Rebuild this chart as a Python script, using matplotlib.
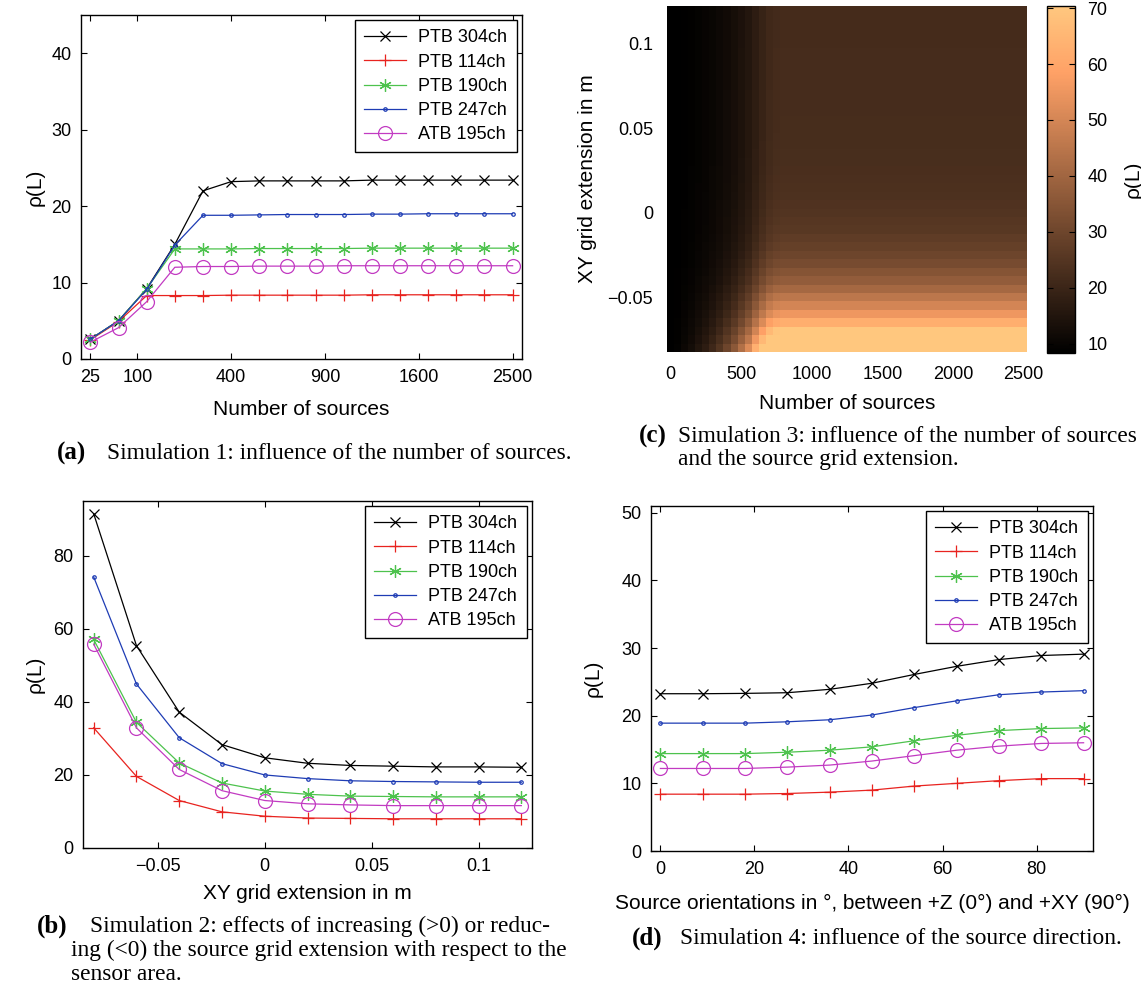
import numpy as np
import matplotlib.pyplot as plt

plt.rcParams['font.family'] = ['Liberation Sans', 'DejaVu Sans']
plt.rcParams['font.size'] = 13
plt.rcParams['xtick.direction'] = 'in'
plt.rcParams['ytick.direction'] = 'in'
plt.rcParams['xtick.top'] = True
plt.rcParams['ytick.right'] = True
plt.rcParams['xtick.major.size'] = 4
plt.rcParams['ytick.major.size'] = 4
plt.rcParams['xtick.major.pad'] = 7
plt.rcParams['ytick.major.pad'] = 7
plt.rcParams['axes.linewidth'] = 1.0

labels = ['PTB 304ch', 'PTB 114ch', 'PTB 190ch', 'PTB 247ch', 'ATB 195ch']

# Simulation 1: number of sources
sources = [25, 64, 121, 196, 289, 400, 529, 676, 841, 1024, 1225, 1444, 1681, 1936, 2209, 2500]
sim1_ptb304 = [2.6, 5.0, 9.2, 15.0, 22.0, 23.2, 23.3, 23.3, 23.3, 23.3, 23.4, 23.4, 23.4, 23.4, 23.4, 23.4]
sim1_ptb114 = [2.5, 4.9, 8.3, 8.3, 8.3, 8.35, 8.35, 8.35, 8.35, 8.35, 8.4, 8.4, 8.4, 8.4, 8.4, 8.4]
sim1_ptb190 = [2.6, 5.0, 9.2, 14.4, 14.4, 14.4, 14.45, 14.45, 14.45, 14.45, 14.5, 14.5, 14.5, 14.5, 14.5, 14.5]
sim1_ptb247 = [2.6, 5.0, 9.1, 14.9, 18.8, 18.8, 18.85, 18.9, 18.9, 18.9, 18.95, 18.95, 19.0, 19.0, 19.0, 19.0]
sim1_atb195 = [2.2, 4.1, 7.5, 12.0, 12.1, 12.1, 12.15, 12.15, 12.15, 12.2, 12.2, 12.2, 12.2, 12.2, 12.2, 12.2]

# Simulation 2: grid extension
extension = [-0.08, -0.06, -0.04, -0.02, 0.0, 0.02, 0.04, 0.06, 0.08, 0.10, 0.12]
sim2_ptb304 = [91.5, 55.4, 37.2, 28.3, 24.7, 23.2, 22.6, 22.4, 22.2, 22.2, 22.1]
sim2_ptb114 = [32.9, 19.6, 13.0, 9.9, 8.7, 8.2, 8.1, 8.0, 8.0, 8.0, 8.0]
sim2_ptb190 = [57.1, 34.4, 23.3, 17.8, 15.6, 14.7, 14.2, 14.1, 14.0, 14.0, 14.0]
sim2_ptb247 = [74.2, 44.9, 30.2, 23.1, 20.0, 19.0, 18.4, 18.2, 18.1, 18.0, 18.0]
sim2_atb195 = [55.8, 32.9, 21.5, 15.7, 13.0, 12.1, 11.8, 11.6, 11.6, 11.6, 11.6]

# Simulation 3: sources x grid extension (PTB 304ch)
heat_sources = np.arange(0, 2501, 50)
heat_ext = np.round(np.arange(41) * 0.005 - 0.08, 3)
heat_floor = 8.3
row_plateau = [91.5, 80.0, 71.0, 62.5, 55.4, 50.0, 45.5, 41.0, 37.2, 34.5,
               32.0, 30.0, 28.3, 27.0, 26.0, 25.3, 24.7, 24.2, 23.8, 23.5,
               23.2, 23.0, 22.8, 22.7, 22.6, 22.5, 22.4, 22.4, 22.3, 22.3,
               22.3, 22.2, 22.2, 22.2, 22.2, 22.2, 22.1, 22.1, 22.1, 22.1, 22.1]
col_ramp = [0.0, 0.01, 0.03, 0.05, 0.08, 0.11, 0.15, 0.20, 0.26, 0.33,
            0.42, 0.52, 0.66, 0.80, 0.92, 0.98] + [1.0] * 35

# Simulation 4: source orientation
orientation = [0, 9, 18, 27, 36, 45, 54, 63, 72, 81, 90]
sim4_ptb304 = [23.25, 23.25, 23.3, 23.4, 23.9, 24.8, 26.1, 27.3, 28.3, 28.9, 29.1]
sim4_ptb114 = [8.4, 8.4, 8.4, 8.5, 8.7, 9.0, 9.6, 10.0, 10.4, 10.7, 10.7]
sim4_ptb190 = [14.4, 14.4, 14.4, 14.6, 14.9, 15.4, 16.3, 17.1, 17.8, 18.1, 18.2]
sim4_ptb247 = [18.9, 18.9, 18.9, 19.1, 19.4, 20.1, 21.2, 22.2, 23.1, 23.5, 23.7]
sim4_atb195 = [12.2, 12.2, 12.2, 12.4, 12.7, 13.3, 14.1, 14.9, 15.5, 15.9, 16.0]

colors = ['k', '#e8231f', '#4dc24d', '#1e3cb4', '#c23bc2']
markers = ['x', '+', (6, 2, 0), '.', 'o']
msizes = [7.5, 9, 9, 5, 10]

W, H = 1141, 984
fig = plt.figure(figsize=(W / 100, H / 100), dpi=100)


def px_axes(left, top, right, bottom):
    return fig.add_axes([left / W, 1 - bottom / H, (right - left) / W, (bottom - top) / H])


def draw_lines(ax, x, series):
    for ys, lab, c, m, ms in zip(series, labels, colors, markers, msizes):
        ax.plot(x, ys, color=c, marker=m, ms=ms, mfc='none', mec=c, mew=0.9,
                lw=0.9, label=lab)
    leg = ax.legend(loc='upper right', fancybox=False, edgecolor='k', framealpha=1,
                    fontsize=13, handlelength=2.3, handletextpad=0.7,
                    labelspacing=0.4, borderaxespad=0.3, borderpad=0.5)
    leg.get_frame().set_linewidth(1.0)


def set_labels(ax, xlabel, xpos, ylabel, ypos):
    ax.set_xlabel(xlabel, fontsize=15, va='center')
    ax.xaxis.set_label_coords(0.5, xpos)
    ax.set_ylabel(ylabel, fontsize=15, va='center')
    ax.yaxis.set_label_coords(ypos, 0.5)


# (a)
ax_a = px_axes(81, 15, 522, 359)
ax_a.set_xscale('function', functions=(np.sqrt, np.square))
draw_lines(ax_a, sources, [sim1_ptb304, sim1_ptb114, sim1_ptb190, sim1_ptb247, sim1_atb195])
ax_a.set_xlim(16, 2601)
ax_a.set_ylim(0, 45)
ax_a.set_xticks([25, 100, 400, 900, 1600, 2500])
ax_a.set_xticklabels(['25', '100', '400', '900', '1600', '2500'])
ax_a.set_yticks([0, 10, 20, 30, 40])
set_labels(ax_a, 'Number of sources', -0.148, 'ρ(L)', -0.104)

# (b)
ax_b = px_axes(83, 501, 532, 848)
draw_lines(ax_b, extension, [sim2_ptb304, sim2_ptb114, sim2_ptb190, sim2_ptb247, sim2_atb195])
ax_b.set_xlim(-0.085, 0.125)
ax_b.set_ylim(0, 95)
ax_b.set_xticks([-0.05, 0, 0.05, 0.1])
ax_b.set_xticklabels(['\u22120.05', '0', '0.05', '0.1'])
ax_b.set_yticks([0, 20, 40, 60, 80])
set_labels(ax_b, 'XY grid extension in m', -0.130, 'ρ(L)', -0.107)

# (c) heat map
heat = heat_floor + (np.array(row_plateau)[:, None] - heat_floor) * np.array(col_ramp)[None, :]
ax_c = px_axes(667, 6, 1027, 352)
im = ax_c.imshow(heat, origin='lower', aspect='auto', cmap='copper',
                 interpolation='nearest', vmin=8.3, vmax=70.4,
                 extent=[heat_sources[0] - 25, heat_sources[-1] + 25,
                         heat_ext[0] - 0.0025, heat_ext[-1] + 0.0025])
for s in ax_c.spines.values():
    s.set_visible(False)
ax_c.tick_params(length=0, pad=10)
ax_c.set_xticks([0, 500, 1000, 1500, 2000, 2500])
ax_c.set_yticks([-0.05, 0, 0.05, 0.1])
ax_c.set_yticklabels(['\u22120.05', '0', '0.05', '0.1'])
set_labels(ax_c, 'Number of sources', -0.150, 'XY grid extension in m', -0.222)

cax = px_axes(1047, 6, 1075, 353)
cb = fig.colorbar(im, cax=cax, ticks=[10, 20, 30, 40, 50, 60, 70])
cb.outline.set_linewidth(1.0)
cax.tick_params(direction='in', left=True, right=True, length=4, pad=9, labelsize=13)
cb.set_label('ρ(L)', fontsize=15, va='center')
cax.yaxis.set_label_coords(3.07, 0.5)

# (d)
ax_d = px_axes(651, 506, 1093, 851)
draw_lines(ax_d, orientation, [sim4_ptb304, sim4_ptb114, sim4_ptb190, sim4_ptb247, sim4_atb195])
ax_d.set_xlim(-2, 92)
ax_d.set_ylim(0, 51)
ax_d.set_xticks([0, 20, 40, 60, 80])
ax_d.set_yticks([0, 10, 20, 30, 40, 50])
set_labels(ax_d, 'Source orientations in °, between +Z (0°) and +XY (90°)', -0.151, 'ρ(L)', -0.131)

# captions
serif = ['Liberation Serif', 'DejaVu Serif']


def caption(tag, x_tag, x_text, y, lines, x_cont=None):
    fig.text(x_tag / W, 1 - y / H, tag, family=serif, fontsize=18, weight='bold', va='center')
    for i, line in enumerate(lines):
        xx = x_text if i == 0 or x_cont is None else x_cont
        fig.text(xx / W, 1 - (y + 24 * i) / H, line, family=serif, fontsize=16.8, va='center')


caption('(a)', 57, 107, 453, ['Simulation 1: influence of the number of sources.'])
caption('(c)', 639, 678, 436, ['Simulation 3: influence of the number of sources',
                               'and the source grid extension.'])
caption('(b)', 37, 90, 926, ['Simulation 2: effects of increasing (>0) or reduc-',
                             'ing (<0) the source grid extension with respect to the',
                             'sensor area.'], x_cont=71)
caption('(d)', 632, 680, 938, ['Simulation 4: influence of the source direction.'])

fig.savefig('out.png', dpi=100)
